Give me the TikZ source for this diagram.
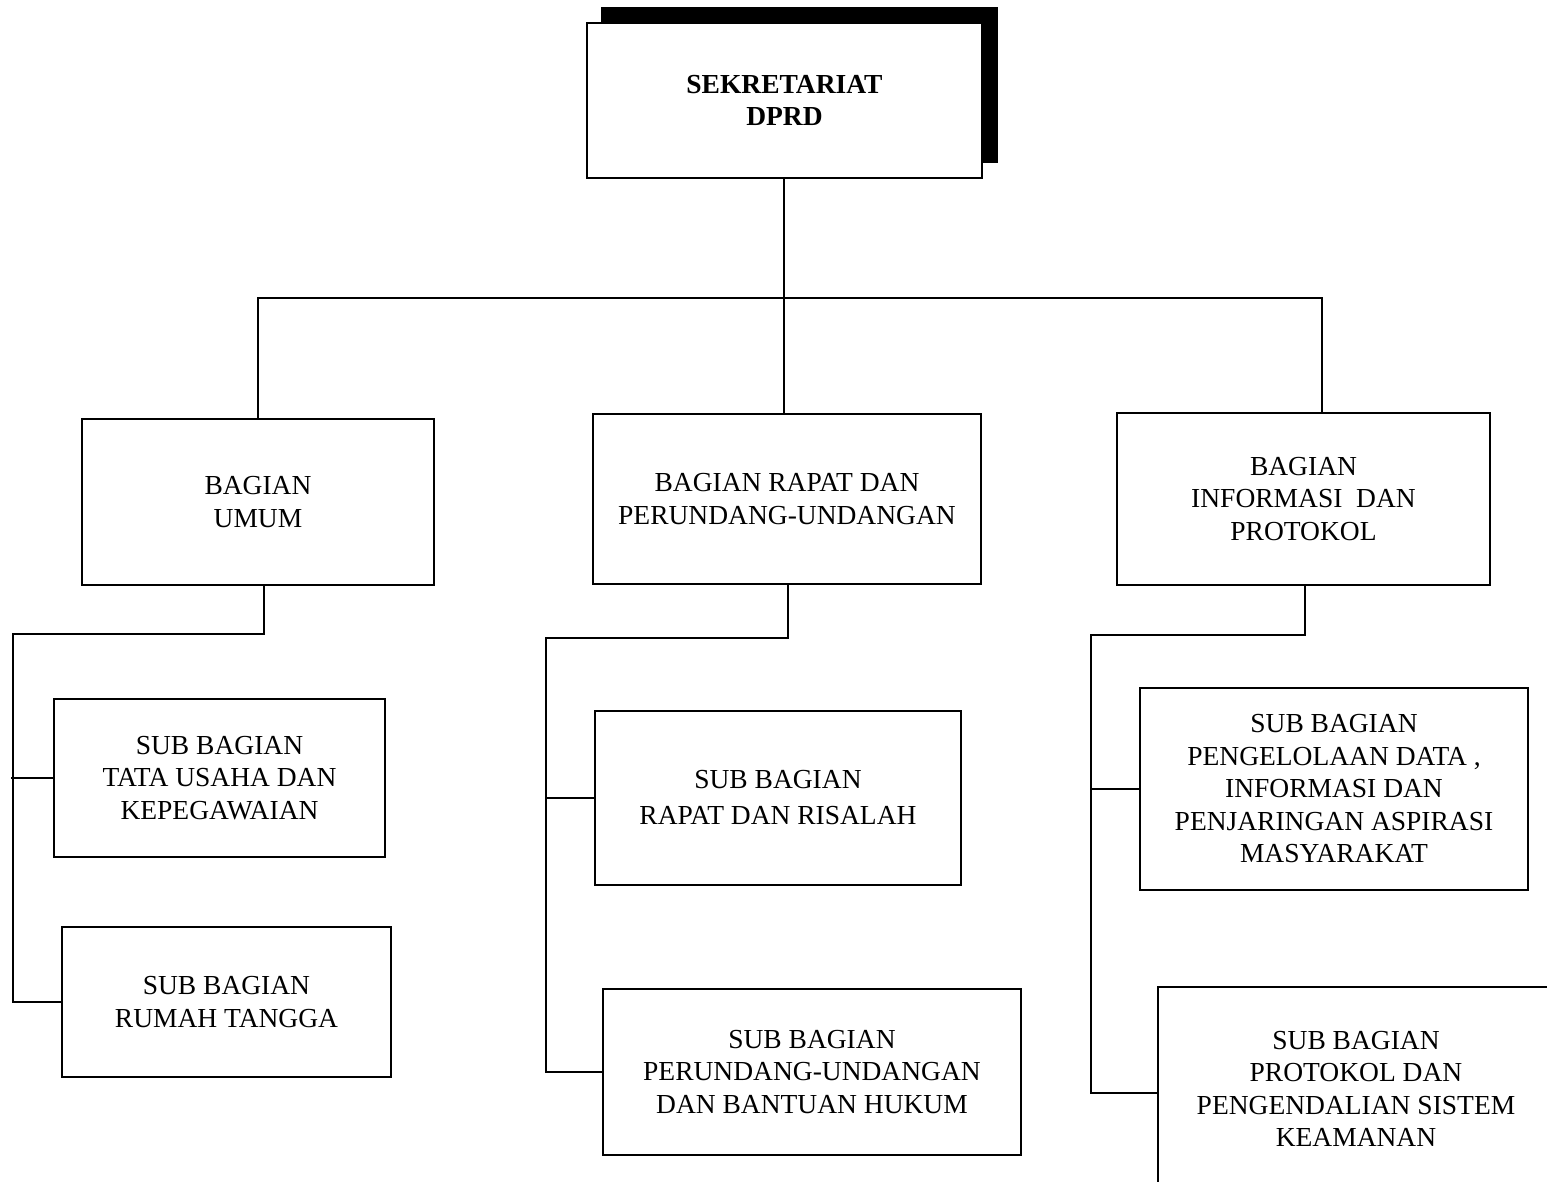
\documentclass[tikz,border=0pt]{standalone}
\usepackage{fontspec}
\setmainfont{Liberation Serif}
\begin{document}
\begin{tikzpicture}[x=1pt,y=-1pt,
  box/.style={draw,line width=1.5pt,fill=white,align=center,inner sep=0pt,
    font=\fontsize{27.5}{32.5}\selectfont},
  link/.style={line width=1.5pt}]
\useasboundingbox (0,0) rectangle (1547,1182);
\clip (0,0) rectangle (1547,1182);

% head office with its black shadow
\fill (601,7) rectangle (998,163);
\node[box,minimum width=395,minimum height=155,font=\fontsize{27.5}{32.5}\selectfont\bfseries]
  (top) at (784.5,100.5) {SEKRETARIAT\\DPRD};

% divisions
\node[box,minimum width=352,minimum height=166] (umum) at (258,502) {BAGIAN\\UMUM};
\node[box,minimum width=388,minimum height=170] (rapat) at (787,499) {BAGIAN RAPAT DAN\\PERUNDANG-UNDANGAN};
\node[box,minimum width=373,minimum height=172] (info) at (1303.5,499) {BAGIAN\\INFORMASI\ \ DAN\\PROTOKOL};

% sub-divisions
\node[box,minimum width=331,minimum height=158] (tu) at (219.5,778) {SUB BAGIAN\\TATA USAHA DAN\\KEPEGAWAIAN};
\node[box,minimum width=329,minimum height=150] (rt) at (226.5,1002) {SUB BAGIAN\\RUMAH TANGGA};
\node[box,minimum width=366,minimum height=174,font=\fontsize{27.5}{36}\selectfont] (rr) at (778,798) {SUB BAGIAN\\RAPAT DAN RISALAH};
\node[box,minimum width=418,minimum height=166] (pu) at (812,1072) {SUB BAGIAN\\PERUNDANG-UNDANGAN\\DAN BANTUAN HUKUM};
\node[box,minimum width=388,minimum height=202] (pd) at (1334,789) {SUB BAGIAN\\PENGELOLAAN DATA ,\\INFORMASI DAN\\PENJARINGAN ASPIRASI\\MASYARAKAT};
\node[box,minimum width=396,minimum height=204] (pk) at (1356,1089) {SUB BAGIAN\\PROTOKOL DAN\\PENGENDALIAN SISTEM\\KEAMANAN};

% main bus
\coordinate (bus) at (0,298);
\draw[link] ([xshift=-0.5]top.south) -- ([xshift=-0.5]top.south |- rapat.north);
\draw[link] (umum.north) -- (umum.north |- bus) -- ([xshift=18.5]info.north |- bus) -- ([xshift=18.5]info.north);

% left branch
\coordinate (spL) at (13,634);
\draw[link] ([xshift=6]umum.south) |- (spL) -- (spL |- rt.west) -- (rt.west);
\draw[link] ([xshift=-2]spL |- tu.west) -- (tu.west);

% middle branch
\coordinate (spM) at (546,638);
\draw[link] ([xshift=1]rapat.south) |- (spM) -- (spM |- pu.west) -- (pu.west);
\draw[link] (spM |- rr.west) -- (rr.west);

% right branch
\coordinate (spR) at (1091,635);
\draw[link] ([xshift=1.5]info.south) |- (spR) -- ([yshift=-4]spR |- pk.west) -- ([yshift=-4]pk.west);
\draw[link] (spR |- pd.west) -- (pd.west);
\end{tikzpicture}
\end{document}
